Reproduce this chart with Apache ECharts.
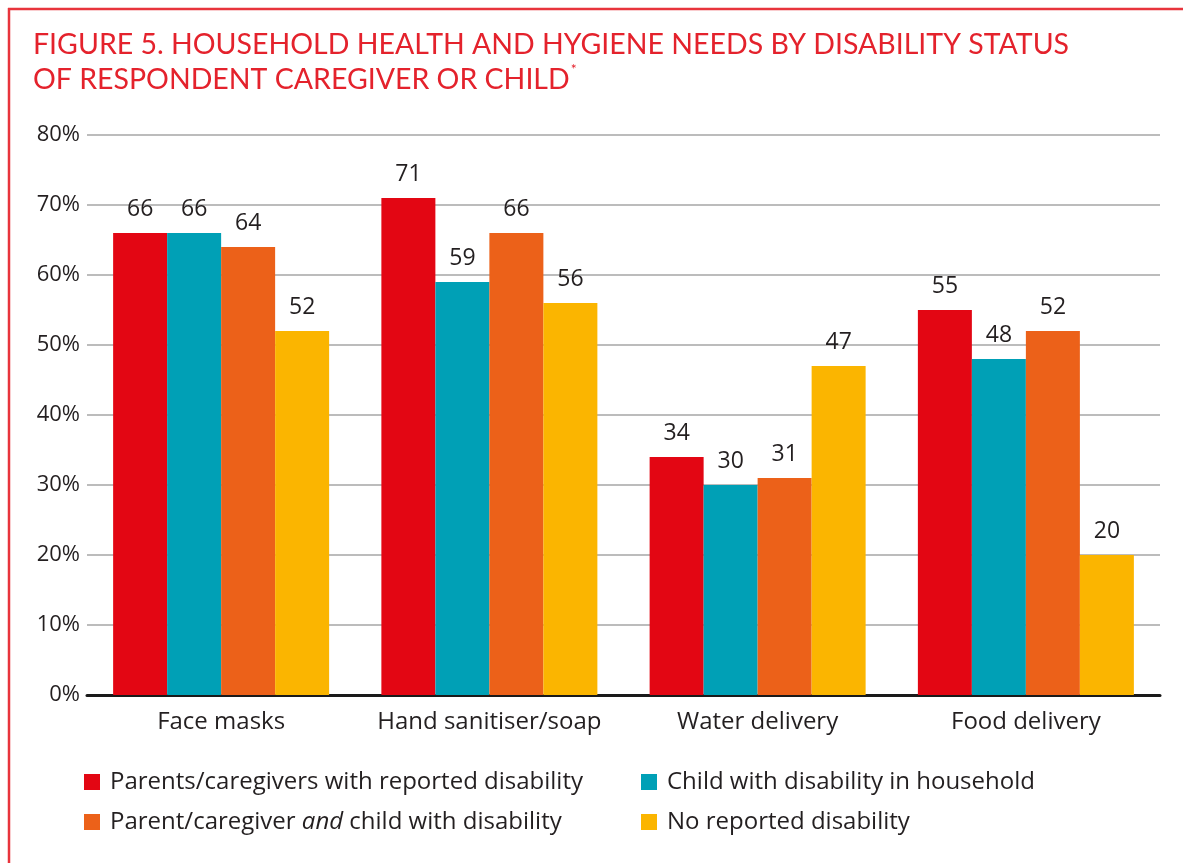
<!DOCTYPE html>
<html>
<head>
<meta charset="utf-8">
<style>
  html, body { margin: 0; padding: 0; background: #fff; }
  #chart { width: 1183px; height: 863px; }
</style>
<script src="https://cdn.jsdelivr.net/npm/echarts@6/dist/echarts.min.js"></script>
</head>
<body>
<div id="chart"></div>
<script>
// Household health and hygiene needs, % of respondents, by disability status
const categories = ['Face masks', 'Hand sanitiser/soap', 'Water delivery', 'Food delivery'];
const parentsDisability = [66, 71, 34, 55];
const childDisability = [66, 59, 30, 48];
const parentAndChild = [64, 66, 31, 52];
const noDisability = [52, 56, 47, 20];
const yTicks = [0, 10, 20, 30, 40, 50, 60, 70, 80];

const seriesNames = [
  'Parents/caregivers with reported disability',
  'Child with disability in household',
  'Parent/caregiver and child with disability',
  'No reported disability'
];
const seriesColors = ['#e30613', '#00a0b6', '#ec6119', '#fbb500'];
const seriesData = [parentsDisability, childDisability, parentAndChild, noDisability];

const TITLE_FONT = 'Lato';
const FONT = 'Open Sans';
const TEXT = '#231f20';

const chart = echarts.init(document.getElementById('chart'));

const legendPos = [
  { left: 84, top: 770 },
  { left: 641, top: 770 },
  { left: 84, top: 810 },
  { left: 641, top: 810 }
];

const legends = seriesNames.map((name, i) => ({
  data: [name],
  left: legendPos[i].left,
  top: legendPos[i].top,
  padding: 0,
  orient: 'horizontal',
  icon: 'rect',
  itemWidth: 16,
  itemHeight: 16,
  itemGap: 0,
  selectedMode: false,
  formatter: (n) => n === 'Parent/caregiver and child with disability'
    ? '{a|Parent/caregiver }{i|and}{a| child with disability}'
    : '{a|' + n + '}',
  textStyle: {
    padding: [0, 0, 0, 5],
    rich: {
      a: { fontFamily: FONT, fontSize: 24, color: TEXT, lineHeight: 24 },
      i: { fontFamily: FONT, fontSize: 24, color: TEXT, lineHeight: 24, fontStyle: 'italic' }
    }
  }
}));

chart.setOption({
  animation: false,
  backgroundColor: '#ffffff',
  title: {
    text: 'FIGURE 5. HOUSEHOLD HEALTH AND HYGIENE NEEDS BY DISABILITY STATUS\nOF RESPONDENT CAREGIVER OR CHILD{s|*}',
    left: 28,
    top: 22,
    textStyle: {
      fontFamily: TITLE_FONT,
      fontSize: 28.5,
      fontWeight: 'normal',
      color: '#e4222c',
      lineHeight: 35,
      rich: {
        s: { fontFamily: TITLE_FONT, fontSize: 14, color: '#e4222c', verticalAlign: 'top', lineHeight: 35, padding: [0, 0, 16, 1] }
      }
    }
  },
  legend: legends,
  grid: { left: 87, right: 23, top: 135, bottom: 168, containLabel: false },
  xAxis: {
    type: 'category',
    data: categories,
    axisLine: { show: true, lineStyle: { color: '#1a1a1a', width: 3 } },
    axisTick: { show: false },
    axisLabel: { interval: 0, fontFamily: FONT, fontSize: 24, color: TEXT, margin: 15 }
  },
  yAxis: {
    type: 'value',
    min: yTicks[0],
    max: yTicks[yTicks.length - 1],
    interval: 10,
    axisLine: { show: false },
    axisTick: { show: false },
    axisLabel: { fontFamily: FONT, fontSize: 22, color: TEXT, margin: 7, formatter: '{value}%' },
    splitLine: { show: true, lineStyle: { color: '#a6a6a6', width: 1.5 } }
  },
  series: seriesNames.map((name, i) => ({
    name: name,
    type: 'bar',
    data: seriesData[i],
    barWidth: 54,
    barGap: '0%',
    itemStyle: { color: seriesColors[i] },
    label: {
      show: true,
      position: 'top',
      distance: 12,
      fontFamily: FONT,
      fontSize: 23,
      color: TEXT
    }
  })),
  graphic: [
    { type: 'line', shape: { x1: 8, y1: 9, x2: 1183, y2: 9 }, style: { stroke: '#e8343c', lineWidth: 2.5 } },
    { type: 'line', shape: { x1: 9, y1: 8, x2: 9, y2: 863 }, style: { stroke: '#e8343c', lineWidth: 2.5 } }
  ]
});
</script>
</body>
</html>
